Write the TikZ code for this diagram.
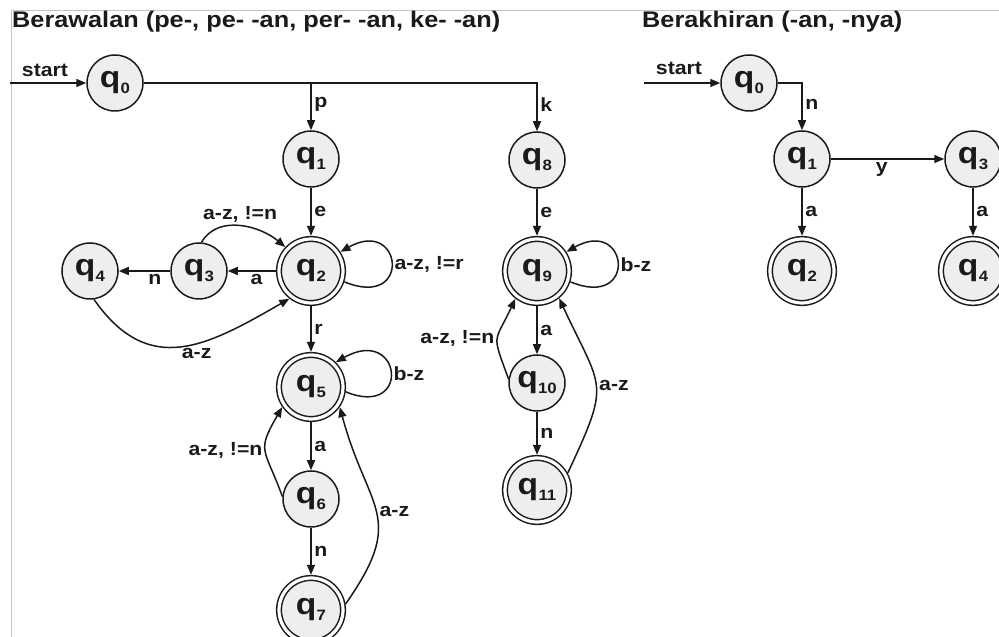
\documentclass[tikz,border=0pt]{standalone}
\usepackage{fontspec}
\setmainfont{Liberation Sans}[FakeStretch=1.12]
\usetikzlibrary{arrows.meta}
\definecolor{ink}{HTML}{1A1A1A}
\definecolor{nodefill}{HTML}{EEEEEE}
\definecolor{frame}{HTML}{C4C4C4}
\newcommand\qsub[1]{q\kern0.3pt\raisebox{-0.2em}{\fontsize{15}{15}\selectfont #1}}
\tikzset{
  st/.style={circle, draw=ink, line width=1.5pt, fill=nodefill, minimum size=56pt, inner sep=0pt,
    text=ink, font=\bfseries\fontsize{30}{30}\selectfont},
  acc/.style={st, double, double distance=3.2pt, minimum size=64pt, outer sep=3.2pt},
  tr/.style={-{Triangle[length=10pt,width=8pt]}, line width=1.5pt, draw=ink},
  lbl/.style={font=\bfseries\fontsize{19}{19}\selectfont, text=ink, inner sep=2.5pt},
  ttl/.style={font=\bfseries\fontsize{22.6}{22.6}\selectfont, text=ink, anchor=base west, inner sep=0pt}
}
\begin{document}
\begin{tikzpicture}[x=1pt,y=1pt]
\useasboundingbox (0,0) rectangle (999,637);
% frame lines
\coordinate (f1) at (11,0);
\coordinate (f2) at (11,626);
\coordinate (f3) at (999,626);
\draw[frame, line width=1pt] (f1) -- (f2) -- (f3);
% titles
\node[ttl] (t1) at (12,609) {Berawalan (pe-, pe- -an, per- -an, ke- -an)};
\node[ttl] (t2) at (642,609) {Berakhiran (-an, -nya)};

% ---- left automaton
\node[st]  (q0)  at (115,554) {\qsub{0}};
\node[st]  (q1)  at (311,478) {\qsub{1}};
\node[acc] (q2)  at (311,366) {\qsub{2}};
\node[st]  (q3)  at (199,366) {\qsub{3}};
\node[st]  (q4)  at (90,366)  {\qsub{4}};
\node[acc] (q5)  at (311,250) {\qsub{5}};
\node[st]  (q6)  at (311,138) {\qsub{6}};
\node[acc] (q7)  at (311,27)  {\qsub{7}};
\node[st]  (q8)  at (537,477) {\qsub{8}};
\node[acc] (q9)  at (537,366) {\qsub{9}};
\node[st]  (q10) at (537,254) {\qsub{10}};
\node[acc] (q11) at (537,147) {\qsub{11}};

\coordinate (s1) at (10,554);
\draw[tr] (s1) -- (q0);
\node[lbl] (st1) at (45,567) {start};
\coordinate (pp) at (q1 |- q0);
\coordinate (kp) at (q8 |- q0);
\draw[tr] (q0) -- (kp) -- node[lbl, right, pos=0.45] {k} (q8);
\draw[tr] (pp) -- node[lbl, right, pos=0.45] {p} (q1);
\draw[tr] (q1) -- node[lbl, right] {e} (q2);
\draw[tr] (q2) -- node[lbl, below, pos=0.4] {a} (q3);
\draw[tr] (q3) -- node[lbl, below, pos=0.3] {n} (q4);
\draw[tr] (q3.85) to[out=60, in=140] node[lbl, above] {a-z, !=n} (q2.137);
\draw[tr] (q4.-82) to[out=-55, in=-150, looseness=1.25] node[lbl, below=2pt, pos=0.58] {a-z} (q2.-128);
\draw[tr] (q2.-18) .. controls +(68,-28) and +(62,35) .. node[lbl, right, pos=0.5] {a-z, !=r} (q2.33);
\draw[tr] (q2) -- node[lbl, right] {r} (q5);
\draw[tr] (q5.-8) .. controls +(66,-27) and +(66,37) .. node[lbl, right, pos=0.5] {b-z} (q5.45);
\draw[tr] (q5) -- node[lbl, right] {a} (q6);
\draw[tr] (q6.175) to[out=110, in=-120, looseness=1.5] node[lbl, left] {a-z, !=n} (q5.215);
\draw[tr] (q6) -- node[lbl, right] {n} (q7);
\draw[tr] (q7.10) to[out=55, in=-75, looseness=1.4] node[lbl, right] {a-z} (q5.-35);

\draw[tr] (q8) -- node[lbl, right] {e} (q9);
\draw[tr] (q9.-18) .. controls +(68,-28) and +(62,35) .. node[lbl, right, pos=0.5] {b-z} (q9.33);
\draw[tr] (q9) -- node[lbl, right] {a} (q10);
\draw[tr] (q10.172) to[out=110, in=-115, looseness=1.6] node[lbl, left] {a-z, !=n} (q9.-128);
\draw[tr] (q10) -- node[lbl, right] {n} (q11);
\draw[tr] (q11.29) to[out=65, in=-65, looseness=1.5] node[lbl, right] {a-z} (q9.-51);

% ---- right automaton
\node[st]  (r0) at (749,554) {\qsub{0}};
\node[st]  (r1) at (802,478) {\qsub{1}};
\node[acc] (r2) at (802,366) {\qsub{2}};
\node[st]  (r3) at (973,478) {\qsub{3}};
\node[acc] (r4) at (973,366) {\qsub{4}};
\coordinate (s2) at (644,554);
\draw[tr] (s2) -- (r0);
\node[lbl] (st2) at (679,569) {start};
\coordinate (np) at (r1 |- r0);
\draw[tr] (r0) -- (np) -- node[lbl, right, pos=0.45] {n} (r1);
\draw[tr] (r1) -- node[lbl, below, pos=0.45] {y} (r3);
\draw[tr] (r1) -- node[lbl, right] {a} (r2);
\draw[tr] (r3) -- node[lbl, right] {a} (r4);
\end{tikzpicture}
\end{document}
